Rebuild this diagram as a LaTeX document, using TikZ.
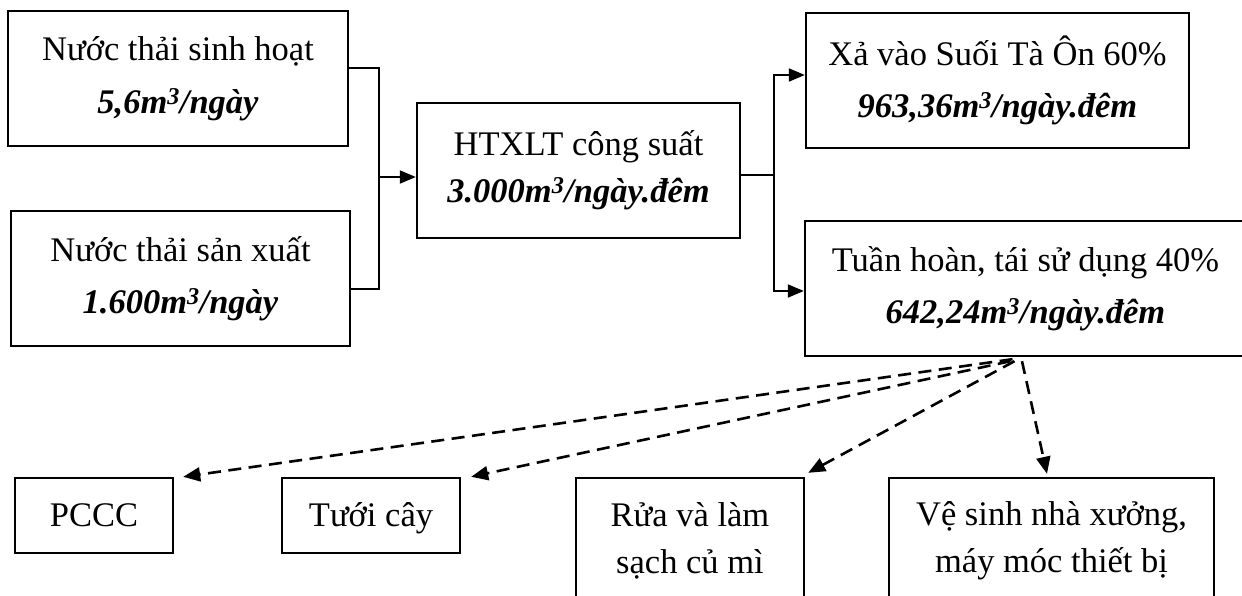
\documentclass[tikz,border=0pt]{standalone}
\usepackage{fontspec}
\setmainfont{Liberation Serif}
\usetikzlibrary{arrows.meta}

\begin{document}
\begin{tikzpicture}[x=1pt,y=-1pt,
  box/.style={draw, line width=2.4pt, inner sep=0pt, align=center,
    font=\fontsize{34.5}{47}\selectfont},
  oneline/.style={text height=21pt, text depth=0pt},
  tie/.style={line width=1.2pt},
  flow/.style={line width=2pt, -{Triangle[length=16pt,width=13pt]}},
  reuse/.style={line width=2.6pt, dash pattern=on 13pt off 7.5pt,
    -{Triangle[length=17pt,width=14pt]}}]

\fill[white] (0,0) rectangle (1242,596);
\clip (0,0) rectangle (1242,596);

% sources
\node[box, minimum width=340pt, minimum height=135pt] (sh) at (178,78.5)
  {Nước thải sinh hoạt\\[6pt]\textbf{\textit{5,6m\textsuperscript{3}/ngày}}};
\node[box, minimum width=339pt, minimum height=135pt] (sx) at (180.5,278.5)
  {Nước thải sản xuất\\[5pt]\textbf{\textit{1.600m\textsuperscript{3}/ngày}}};

% treatment plant
\node[box, minimum width=323pt, minimum height=135pt] (ht) at (578.5,170.5)
  {HTXLT công suất\\\textbf{\textit{3.000m\textsuperscript{3}/ngày.đêm}}};

% outputs
\node[box, minimum width=383pt, minimum height=135pt] (xa) at (997.5,80.5)
  {Xả vào Suối Tà Ôn 60\%\\[5pt]\textbf{\textit{963,36m\textsuperscript{3}/ngày.đêm}}};
\node[box, minimum width=441pt, minimum height=135pt] (th) at (1025.5,288.5)
  {Tuần hoàn, tái sử dụng 40\%\\[5pt]\textbf{\textit{642,24m\textsuperscript{3}/ngày.đêm}}};

% reuse targets
\node[box, oneline, minimum width=158pt, minimum height=75pt] (pc) at (94,515.5) {PCCC};
\node[box, oneline, minimum width=178pt, minimum height=75pt] (tc) at (371,515.5) {Tưới cây};
\node[box, minimum width=228pt, minimum height=125pt] (rs) at (690,540.5)
  {Rửa và làm\\sạch củ mì};
\node[box, minimum width=325pt, minimum height=125pt] (vs) at (1051.5,540.5)
  {Vệ sinh nhà xưởng,\\máy móc thiết bị};

% merge of the two sources
\coordinate (m1) at (379,177);
\draw[tie] ([yshift=10.5pt]sh.east) -| (m1) |- ([yshift=-10.5pt]sx.east);
\draw[flow] (m1) -- (m1 -| ht.west);

% split of the treated water
\coordinate (m2) at (774,175);
\draw[tie] (m2 -| ht.east) -- (m2);
\draw[flow] (m2) |- ([yshift=5.5pt]xa.west);
\draw[flow] (m2) |- ([yshift=-2.5pt]th.west);

% reuse branches
\draw[reuse] ([xshift=-13pt,yshift=-2pt]th.south) -- ([xshift=9pt]pc.north east);
\draw[reuse] ([xshift=-15pt,yshift=-4pt]th.south) -- ([xshift=10pt]tc.north east);
\draw[reuse] ([xshift=-11pt,yshift=-4pt]th.south) -- ([xshift=3pt,yshift=4pt]rs.north east);
\draw[reuse] ([xshift=-3.5pt,yshift=-4pt]th.south) -- ([xshift=-4.5pt,yshift=3pt]vs.north);
\end{tikzpicture}
\end{document}
